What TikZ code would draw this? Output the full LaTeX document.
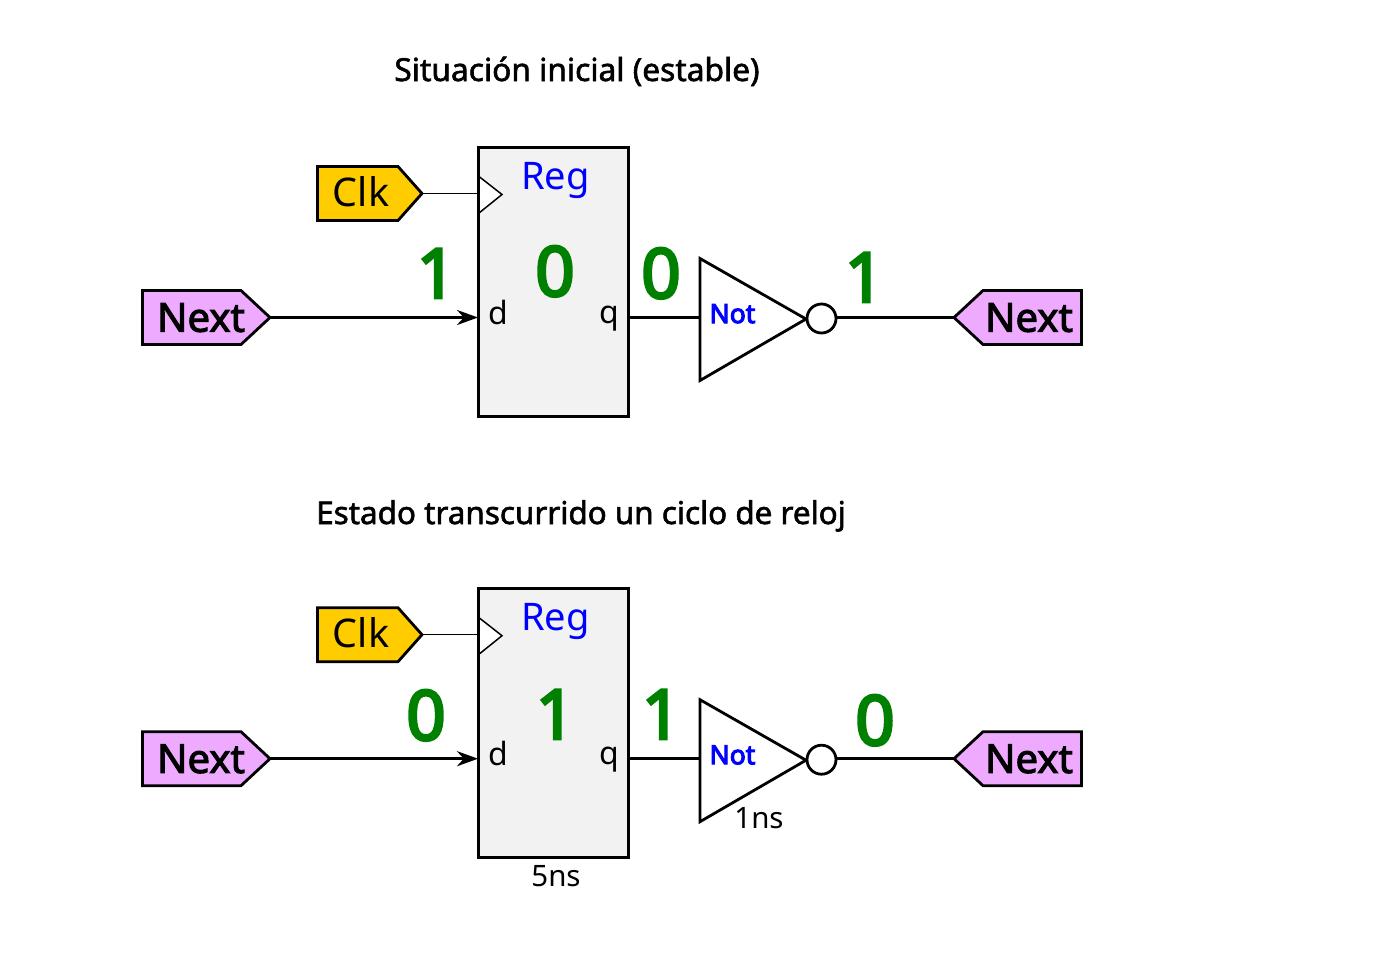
\documentclass[tikz,border=0pt]{standalone}
\usepackage{fontspec}
\setmainfont{Noto Sans}
\newfontfamily\medfont{Noto Sans}[FakeBold=1.8]
\newfontfamily\tagfont{Noto Sans}[FakeBold=2.6]
\newfontfamily\boldfont{Noto Sans}[FakeBold=4]
\usetikzlibrary{arrows.meta}
\definecolor{tagpink}{HTML}{EEAAFF}
\definecolor{tagyellow}{HTML}{FFCC00}
\definecolor{regfill}{HTML}{F2F2F2}
\definecolor{valgreen}{HTML}{008000}
\tikzset{
  thick line/.style={line width=2.8pt,line join=miter},
  reg line/.style={line width=3pt,line join=miter},
  thin line/.style={line width=1.5pt},
  wire/.style={line width=2.8pt},
  txt/.style={anchor=base,inner sep=0pt,outer sep=0pt},
  tagtext/.style={txt,font=\tagfont\fontsize{40}{40}\selectfont},
  clktext/.style={txt,font=\fontsize{39.5}{39}\selectfont},
  regtext/.style={txt,text=blue,font=\fontsize{38}{38}\selectfont},
  nottext/.style={txt,text=blue,font=\boldfont\fontsize{26.5}{26}\selectfont},
  porttext/.style={txt,font=\fontsize{32}{32}\selectfont},
  delaytext/.style={txt,font=\fontsize{29.5}{29}\selectfont},
  value/.style={txt,text=valgreen,font=\boldfont\fontsize{69}{69}\selectfont},
  title/.style={txt,font=\medfont\fontsize{31.7}{32}\selectfont},
  title wide/.style={txt,font=\medfont\fontsize{31.4}{32}\selectfont},
}
\newcommand{\mycircuit}[2]{%
\begin{scope}[yshift=#2]
  \node[fill=regfill,minimum width=150pt,minimum height=269pt,inner sep=0pt,outer sep=0pt,anchor=north west] (#1reg) at (478.5,147.5) {};
  \coordinate (#1clktip) at (422,193.5);
  \coordinate (#1clkin) at (478,193.5);
  \coordinate (#1nexttip) at (270,317.5);
  \coordinate (#1dport) at (478,317.5);
  \coordinate (#1qport) at (629,317.5);
  \coordinate (#1notin) at (700,317.5);
  \coordinate (#1bubout) at (836,317.5);
  \coordinate (#1outtip) at (954,317.5);
  \draw[thick line,fill=tagyellow] (317.5,166.5) -- (398,166.5) -- (#1clktip) -- (398,220.5) -- (317.5,220.5) -- cycle;
  \node[clktext] (#1clk) at (361,206) {Clk};
  \draw[thin line] (#1clktip) -- (#1clkin);
  \draw[thin line,fill=white] (479,176.5) -- (502,194.5) -- (479,213) -- cycle;
  \draw[reg line] (#1reg.north west) rectangle (#1reg.south east);
  \draw[thick line,fill=tagpink] (142.5,290.5) -- (241,290.5) -- (#1nexttip) -- (241,344.5) -- (142.5,344.5) -- cycle;
  \node[tagtext] (#1next) at (201,331.7) {Next};
  \draw[wire,-{Stealth[length=21pt,width=15pt]}] (#1nexttip) -- (#1dport);
  \node[regtext] (#1regname) at (555.5,189.5) {Reg};
  \node[porttext] (#1d) at (498.5,324) {d};
  \node[porttext] (#1q) at (609,323) {q};
  \draw[thick line,fill=white] (700,258.5) -- (806,319) -- (700,380.5) -- cycle;
  \node[nottext] (#1not) at (732.5,323) {Not};
  \draw[thick line,fill=white] (821.5,318.5) circle[radius=14.5];
  \draw[wire] (#1qport) -- (#1notin);
  \draw[wire] (#1bubout) -- (#1outtip);
  \draw[thick line,fill=tagpink] (#1outtip) -- (983,290.5) -- (1081.5,290.5) -- (1081.5,344.5) -- (983,344.5) -- cycle;
  \node[tagtext] (#1nextout) at (1029,331.7) {Next};
\end{scope}}
\begin{document}
\begin{tikzpicture}[x=1pt,y=-1pt]
  \useasboundingbox (0,0) rectangle (1387,959);
  \mycircuit{a}{0pt}
  \mycircuit{b}{-441.2pt}
  \node[title] (t1) at (577,81) {Situación inicial (estable)};
  \node[title wide] (t2) at (581,524) {Estado transcurrido un ciclo de reloj};
  \node[value] (a1) at (436.5,298) {1};
  \node[value] (a2) at (555,296) {0};
  \node[value] (a3) at (661,298) {0};
  \node[value] (a4) at (864.5,302) {1};
  \node[value] (b1) at (426,740) {0};
  \node[value] (b2) at (555.5,739) {1};
  \node[value] (b3) at (661.5,739) {1};
  \node[value] (b4) at (875,745) {0};
  \node[delaytext] (d1) at (759,828) {1ns};
  \node[delaytext] (d2) at (556,886) {5ns};
\end{tikzpicture}
\end{document}
